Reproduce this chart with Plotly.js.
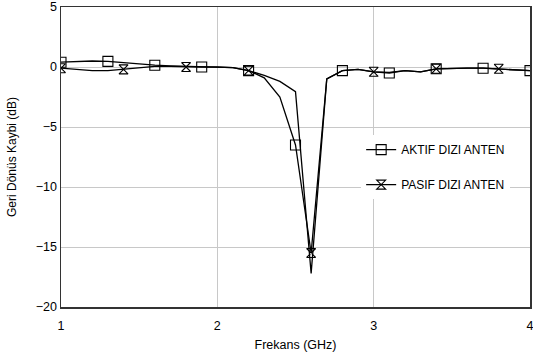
<!DOCTYPE html>
<html>
<head>
<meta charset="utf-8">
<script src="https://cdn.plot.ly/plotly-3.0.1.min.js"></script>
<style>html,body{margin:0;padding:0;background:#fff;}#chart{width:533px;height:360px;}</style>
</head>
<body>
<div id="chart"></div>
<script>
// Frequency samples (GHz)
const freq = [1.0,1.1,1.2,1.3,1.4,1.5,1.6,1.7,1.8,1.9,2.0,2.1,2.2,2.3,2.4,2.5,2.6,2.7,2.8,2.9,3.0,3.1,3.2,3.3,3.4,3.5,3.6,3.7,3.8,3.9,4.0];
// Return loss (dB)
const aktif = [0.4,0.45,0.5,0.47,0.35,0.25,0.15,0.1,0.05,0.0,0.0,-0.05,-0.3,-0.9,-2.5,-6.5,-15.5,-1.0,-0.3,-0.2,-0.4,-0.5,-0.3,-0.4,-0.15,-0.1,-0.1,-0.1,-0.15,-0.2,-0.3];
const pasif = [-0.1,-0.2,-0.3,-0.3,-0.2,-0.05,0.05,0.05,0.0,0.0,0.0,-0.05,-0.3,-0.7,-1.2,-2.05,-17.2,-1.0,-0.3,-0.2,-0.4,-0.45,-0.3,-0.4,-0.15,-0.1,-0.1,-0.1,-0.15,-0.2,-0.3];
// Marker samples
const aktifMarkFreq = [1.0,1.3,1.6,1.9,2.2,2.5,2.8,3.1,3.4,3.7,4.0];
const aktifMarkVals = [0.4,0.47,0.15,0.0,-0.3,-6.5,-0.3,-0.5,-0.15,-0.1,-0.3];
const pasifMarkFreq = [1.0,1.4,1.8,2.2,2.6,3.0,3.4,3.8];
const pasifMarkVals = [-0.1,-0.2,0.0,-0.3,-15.5,-0.4,-0.15,-0.15];
const seriesNames = ['AKTIF DIZI ANTEN','PASIF DIZI ANTEN'];
const xTitle = 'Frekans (GHz)';
const yTitle = 'Geri Dönüs Kaybi (dB)';

const lineStyle = {color:'#000', width:1.3};
const traces = [
  {x:freq, y:aktif, mode:'lines', line:lineStyle, showlegend:false, hoverinfo:'skip'},
  {x:freq, y:pasif, mode:'lines', line:lineStyle, showlegend:false, hoverinfo:'skip'},
  {x:aktifMarkFreq, y:aktifMarkVals, mode:'markers', showlegend:false,
   marker:{symbol:'square-open', size:10, color:'#000', line:{width:1.1}}},
  {x:pasifMarkFreq, y:pasifMarkVals, mode:'markers', showlegend:false,
   marker:{symbol:'hourglass-open', size:9, color:'#000', line:{width:1.1}}},
  {x:[null], y:[null], mode:'lines+markers', name:seriesNames[0], legendgroup:'a',
   line:lineStyle, marker:{symbol:'square-open', size:10, color:'#000', line:{width:1.1}}},
  {x:[null], y:[null], mode:'lines+markers', name:seriesNames[1], legendgroup:'b',
   line:lineStyle, marker:{symbol:'hourglass-open', size:9, color:'#000', line:{width:1.1}}}
];

const layout = {
  width:533, height:360,
  margin:{l:61, r:3, t:7, b:53},
  paper_bgcolor:'#fff', plot_bgcolor:'#fff',
  font:{family:'"Liberation Sans", Arial, sans-serif', size:12, color:'#000'},
  showlegend:true,
  legend:{x:0.64, y:0.573, xanchor:'left', yanchor:'top', bgcolor:'#fff', borderwidth:0,
          tracegroupgap:16, itemwidth:30, font:{size:12}, traceorder:'grouped'},
  xaxis:{range:[1,4], dtick:1, tick0:1, showgrid:true, gridcolor:'#c8c8c8', gridwidth:1,
         zeroline:false, showline:true, mirror:true, linecolor:'#333', linewidth:1.5,
         ticks:'', ticklabeloverflow:'allow', ticklabelstandoff:6,
         tickfont:{size:12.5}, title:{text:xTitle, font:{size:12.5}, standoff:8}},
  yaxis:{range:[-20,5], dtick:5, tick0:0, showgrid:true, gridcolor:'#c8c8c8', gridwidth:1,
         zeroline:false, showline:true, mirror:true, linecolor:'#333', linewidth:1.5,
         ticks:'', tickfont:{size:12.5}, title:{text:yTitle, font:{size:12}, standoff:16}}
};
Plotly.newPlot('chart', traces, layout, {staticPlot:true});
</script>
</body>
</html>
